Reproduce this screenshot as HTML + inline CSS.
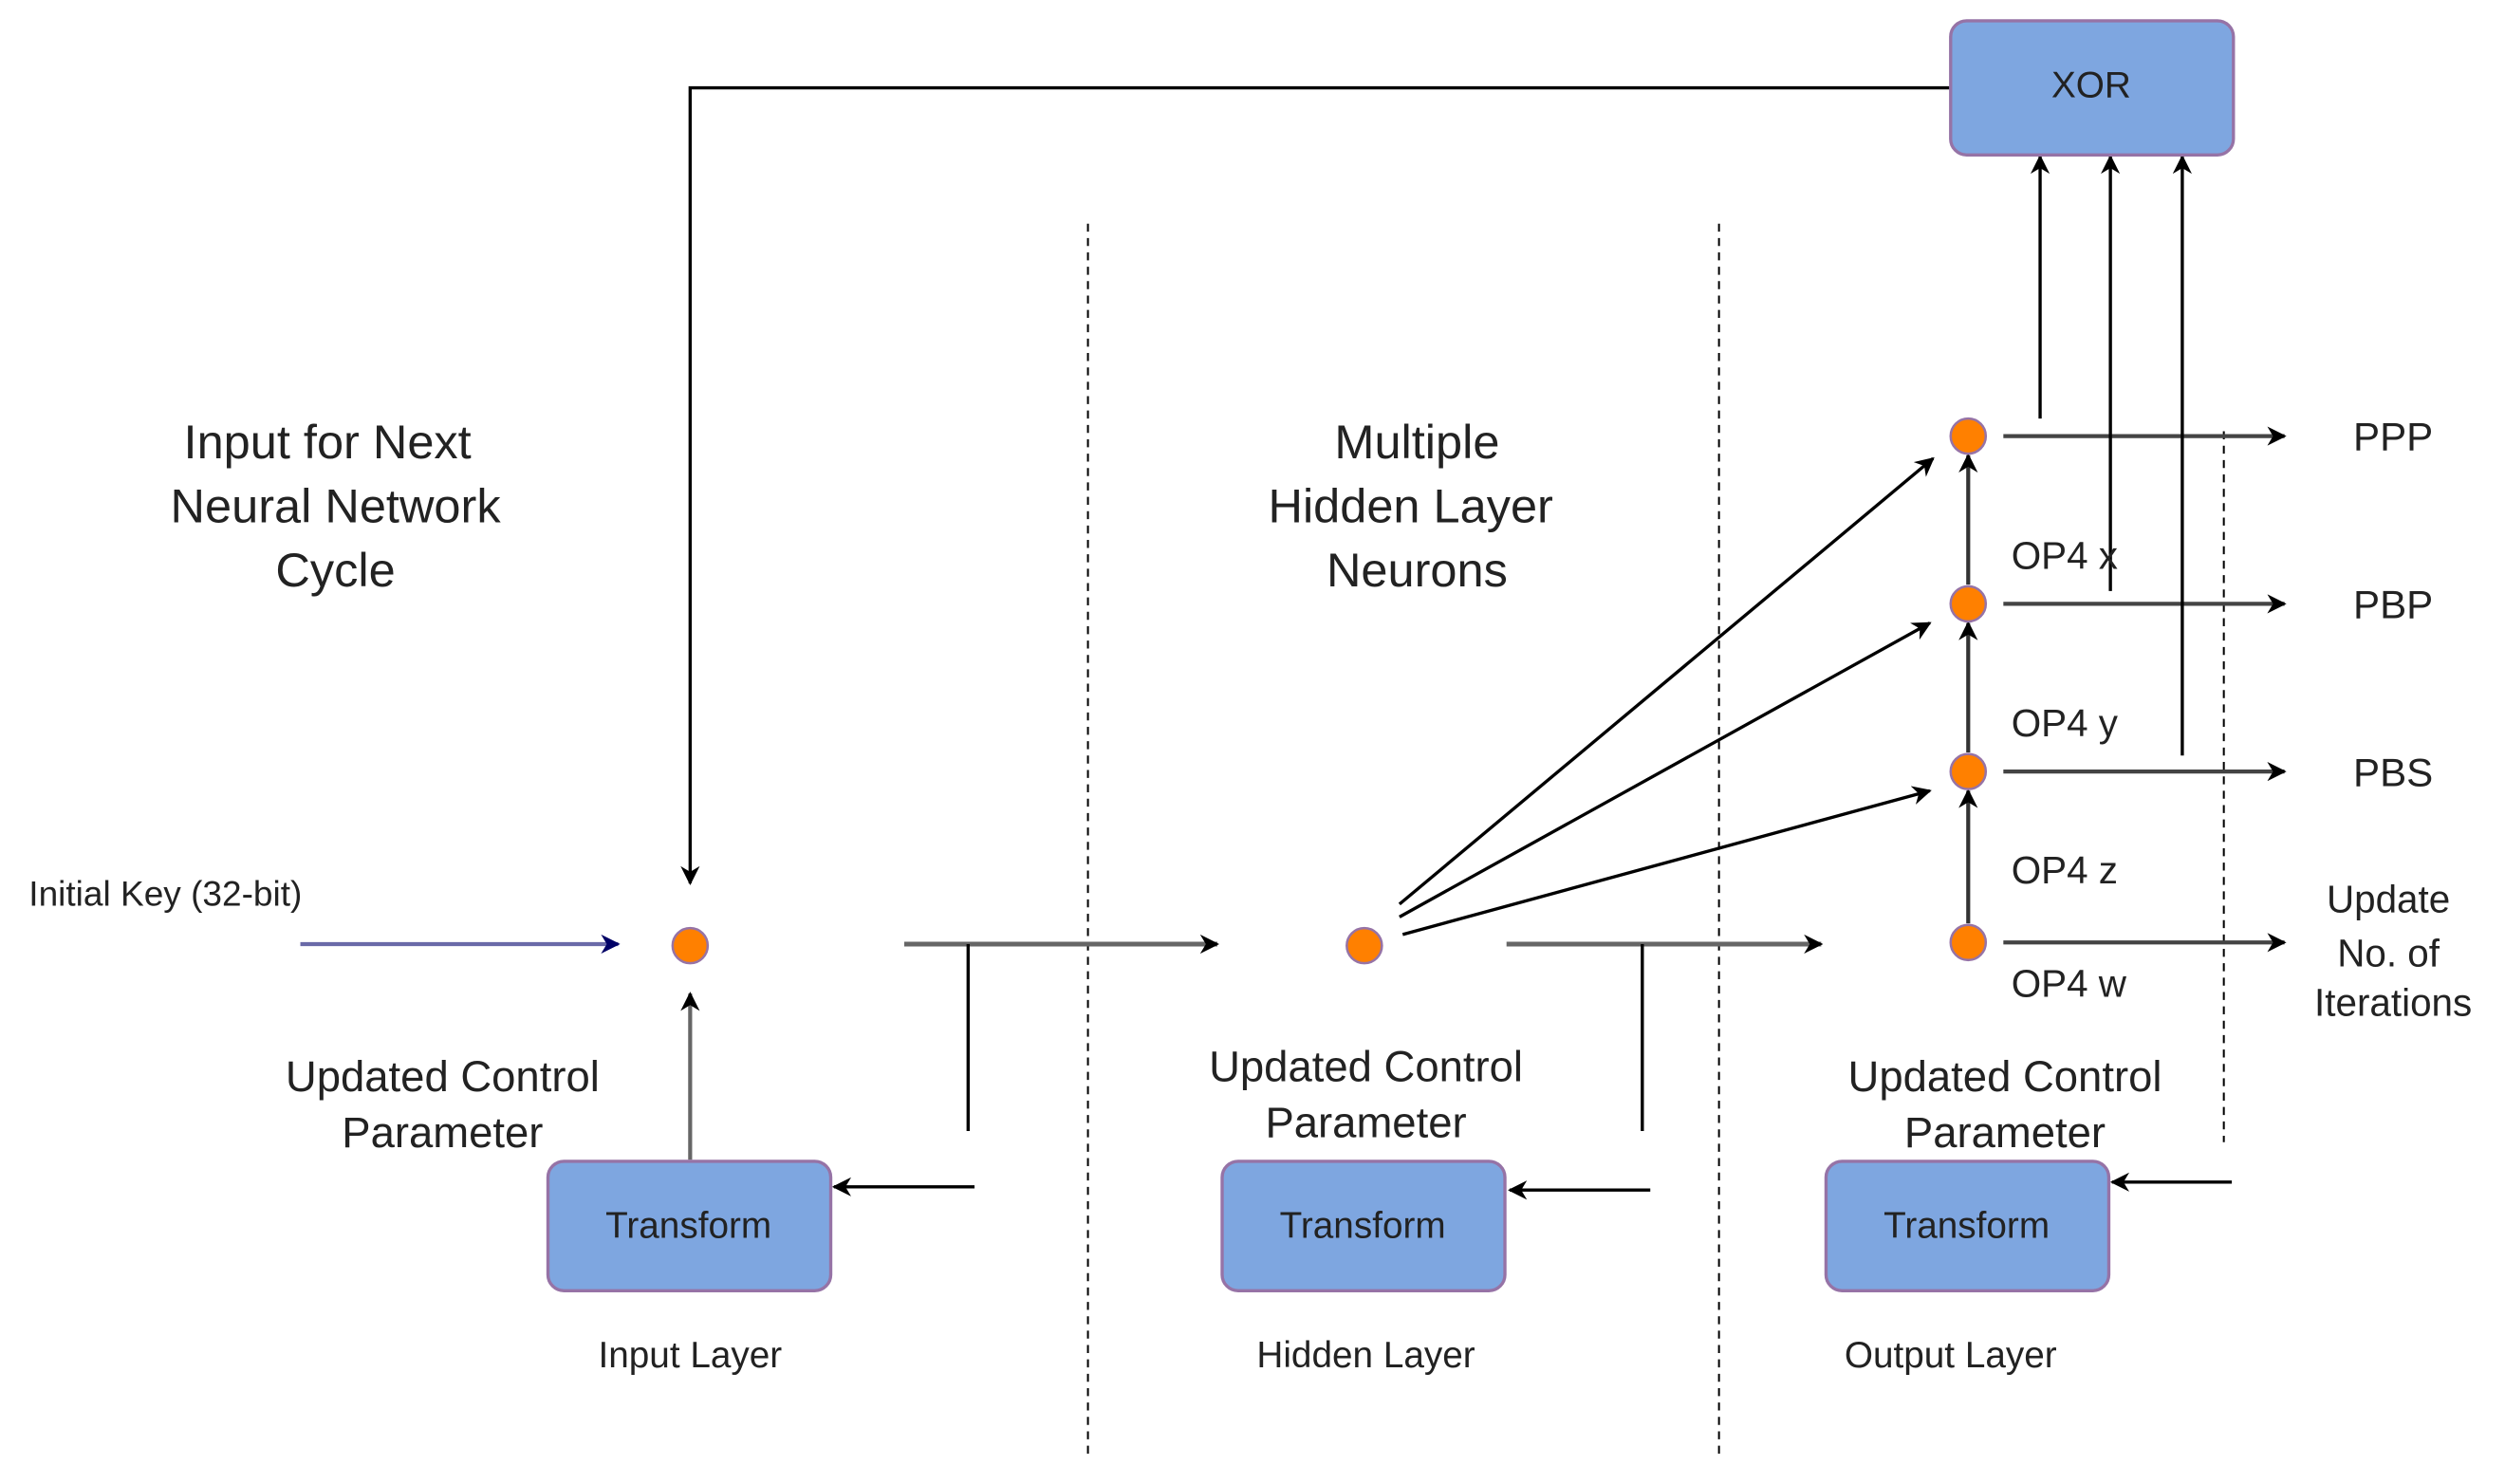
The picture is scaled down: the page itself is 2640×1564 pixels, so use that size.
<!DOCTYPE html>
<html><head><meta charset="utf-8"><style>html,body{margin:0;padding:0;background:#fff}svg{display:block}text{font-family:"Liberation Sans",sans-serif;fill:#222}</style></head>
<body>
<svg width="2640" height="1564" viewBox="0 0 1568 929" preserveAspectRatio="none" xmlns="http://www.w3.org/2000/svg">
<defs>
<marker id="a" viewBox="0 0 10 10" refX="9" refY="5" markerWidth="7" markerHeight="7" markerUnits="userSpaceOnUse" orient="auto"><path d="M0,0 L10,5 L0,10 L3,5 z" fill="#000"/></marker>
<marker id="a2" viewBox="0 0 10 10" refX="9" refY="5" markerWidth="12" markerHeight="12" markerUnits="userSpaceOnUse" orient="auto"><path d="M0,0 L10,5 L0,10 L3,5 z" fill="#000"/></marker>
<marker id="an" viewBox="0 0 10 10" refX="9" refY="5" markerWidth="12" markerHeight="12" markerUnits="userSpaceOnUse" orient="auto"><path d="M0,0 L10,5 L0,10 L3,5 z" fill="#000066"/></marker>
</defs>
<g stroke="#000" stroke-width="1.2" stroke-dasharray="5,4" fill="none">
<line x1="681" y1="140" x2="681" y2="912"/>
<line x1="1076" y1="140" x2="1076" y2="912"/>
<line x1="1392" y1="270" x2="1392" y2="715"/>
</g>
<g fill="none" stroke-width="2">
<polyline points="1221,55 432,55 432,553" stroke="#000" marker-end="url(#a2)"/>
<line x1="188" y1="591" x2="387" y2="591" stroke="#6a6aa8" stroke-width="2.5" marker-end="url(#an)"/>
<line x1="432" y1="726" x2="432" y2="622" stroke="#666" stroke-width="2.5" marker-end="url(#a2)"/>
<line x1="566" y1="591" x2="762" y2="591" stroke="#666" stroke-width="3" marker-end="url(#a2)"/>
<line x1="606" y1="591" x2="606" y2="708" stroke="#000"/>
<line x1="610" y1="743" x2="522" y2="743" stroke="#000" marker-end="url(#a2)"/>
<line x1="943" y1="591" x2="1140" y2="591" stroke="#666" stroke-width="3" marker-end="url(#a2)"/>
<line x1="1028" y1="591" x2="1028" y2="708" stroke="#000"/>
<line x1="1033" y1="745" x2="945" y2="745" stroke="#000" marker-end="url(#a2)"/>
<line x1="1397" y1="740" x2="1322" y2="740" stroke="#000" marker-end="url(#a2)"/>
<line x1="1232" y1="578" x2="1232" y2="495" stroke="#333" stroke-width="2.5" marker-end="url(#a2)"/>
<line x1="1232" y1="471" x2="1232" y2="390" stroke="#333" stroke-width="2.5" marker-end="url(#a2)"/>
<line x1="1232" y1="366" x2="1232" y2="285" stroke="#333" stroke-width="2.5" marker-end="url(#a2)"/>
<line x1="876" y1="566" x2="1210" y2="287" stroke="#000" marker-end="url(#a2)"/>
<line x1="876" y1="574" x2="1208" y2="390" stroke="#000" marker-end="url(#a2)"/>
<line x1="878" y1="585" x2="1208" y2="495" stroke="#000" marker-end="url(#a2)"/>
<line x1="1254" y1="273" x2="1430" y2="273" stroke="#444" stroke-width="2.5" marker-end="url(#a2)"/>
<line x1="1254" y1="378" x2="1430" y2="378" stroke="#444" stroke-width="2.5" marker-end="url(#a2)"/>
<line x1="1254" y1="483" x2="1430" y2="483" stroke="#444" stroke-width="2.5" marker-end="url(#a2)"/>
<line x1="1254" y1="590" x2="1430" y2="590" stroke="#444" stroke-width="2.5" marker-end="url(#a2)"/>
<line x1="1277" y1="262" x2="1277" y2="98" stroke="#000" marker-end="url(#a2)"/>
<line x1="1321" y1="370" x2="1321" y2="98" stroke="#000" marker-end="url(#a2)"/>
<line x1="1366" y1="473" x2="1366" y2="98" stroke="#000" marker-end="url(#a2)"/>
</g>
<g fill="#7ea6e0" stroke="#9673a6" stroke-width="2">
<rect x="1221" y="13" width="177" height="84" rx="10"/>
<rect x="343" y="727" width="177" height="81" rx="10"/>
<rect x="765" y="727" width="177" height="81" rx="10"/>
<rect x="1143" y="727" width="177" height="81" rx="10"/>
</g>
<g fill="#ff8000" stroke="#9673a6" stroke-width="1.5">
<circle cx="432" cy="592" r="11"/><circle cx="854" cy="592" r="11"/>
<circle cx="1232" cy="273" r="11"/><circle cx="1232" cy="378" r="11"/>
<circle cx="1232" cy="483" r="11"/><circle cx="1232" cy="590" r="11"/>
</g>
<g text-anchor="middle" font-size="23">
<text x="1309" y="61">XOR</text>
<text x="431" y="775">Transform</text>
<text x="853" y="775">Transform</text>
<text x="1231" y="775">Transform</text>
<text x="432" y="856">Input Layer</text>
<text x="855" y="856">Hidden Layer</text>
<text x="1221" y="856">Output Layer</text>
</g>
<g text-anchor="middle" font-size="30">
<text x="205" y="287">Input for Next</text><text x="210" y="327">Neural Network</text><text x="210" y="367">Cycle</text>
<text x="887" y="287">Multiple</text><text x="883" y="327">Hidden Layer</text><text x="887" y="367">Neurons</text>
</g>
<g text-anchor="middle" font-size="27">
<text x="277" y="683">Updated Control</text><text x="277" y="718">Parameter</text>
<text x="855" y="677">Updated Control</text><text x="855" y="712">Parameter</text>
<text x="1255" y="683">Updated Control</text><text x="1255" y="718">Parameter</text>
</g>
<text x="18" y="567" font-size="22">Initial Key (32-bit)</text>
<g font-size="24">
<text x="1259" y="356">OP4 x</text><text x="1259" y="461">OP4 y</text>
<text x="1259" y="553">OP4 z</text><text x="1259" y="624">OP4 w</text>
</g>
<g text-anchor="middle" font-size="25">
<text x="1498" y="282">PPP</text><text x="1498" y="387">PBP</text><text x="1498" y="492">PBS</text>
</g>
<g text-anchor="middle" font-size="24">
<text x="1495" y="571">Update</text><text x="1495" y="605">No. of</text><text x="1498" y="636">Iterations</text>
</g>
</svg>
</body></html>
